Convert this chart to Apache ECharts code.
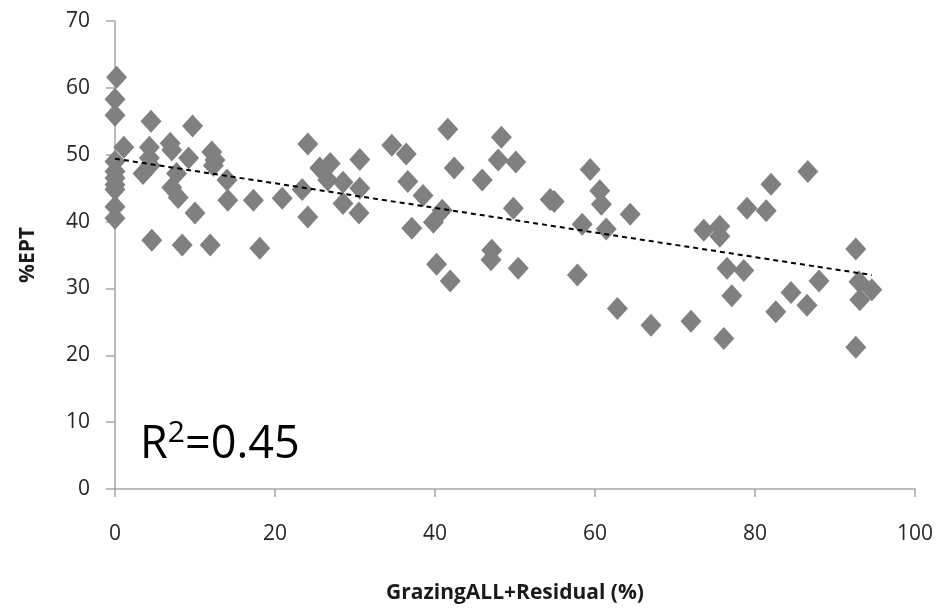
<!DOCTYPE html>
<html>
<head>
<meta charset="utf-8">
<script src="https://cdn.jsdelivr.net/npm/echarts@6/dist/echarts.min.js"></script>
<style>
    html, body { margin: 0; padding: 0; background: #fff; }
    #main { width: 940px; height: 613px; }
</style>
</head>
<body>
<div id="main"></div>
<script>
// GrazingALL+Residual (%) per site
const grazing = [
    0.2, 0, 0, 0, 0, 0, 0, 0, 0, 0,
    1.1, 4.5, 9.7, 4.3, 6.9, 7.1, 9.2, 12.1, 12.5, 12.3,
    4.3, 3.5, 4.4, 7.7, 14.0, 7.1, 7.9, 14.1, 17.3, 20.9,
    10.0, 4.6, 8.4, 11.9, 18.1,
    24.1, 23.4, 24.1, 25.6, 26.9, 26.6, 28.5, 28.5, 30.6, 30.6,
    30.5, 34.6, 36.4, 36.6, 38.5, 37.1, 40.9, 39.8, 41.6, 42.4,
    40.2, 41.9, 45.9, 48.3, 47.9, 50.1, 49.8, 47.1, 47.0, 50.4,
    54.4, 54.9,
    59.4, 60.6, 60.8, 64.4, 58.4, 61.4, 57.8, 62.8, 67.0, 72.0,
    76.1, 73.6, 75.6, 75.6, 76.5, 77.1, 78.6, 79.0, 82.0, 81.4,
    86.6, 84.5, 82.6, 86.5, 88.0, 92.6, 93.0, 94.6, 93.1, 92.6
];
// %EPT per site
const ept = [
    61.6, 58.3, 55.9, 49.0, 47.5, 46.5, 45.5, 44.8, 42.2, 40.5,
    51.1, 55.0, 54.3, 51.1, 51.7, 50.7, 49.5, 50.4, 49.2, 48.4,
    49.5, 47.2, 48.4, 47.2, 46.2, 45.1, 43.6, 43.2, 43.2, 43.5,
    41.3, 37.2, 36.5, 36.5, 36.0,
    51.6, 44.8, 40.7, 48.0, 48.7, 46.2, 45.9, 42.7, 49.3, 45.0,
    41.3, 51.4, 50.1, 46.0, 43.9, 39.0, 41.7, 39.9, 53.8, 48.0,
    33.6, 31.1, 46.2, 52.6, 49.2, 48.9, 42.0, 35.7, 34.3, 33.0,
    43.3, 43.0,
    47.8, 44.6, 42.6, 41.1, 39.6, 38.9, 32.0, 27.0, 24.5, 25.1,
    22.5, 38.7, 39.3, 37.8, 33.0, 28.9, 32.7, 42.0, 45.6, 41.6,
    47.5, 29.4, 26.5, 27.5, 31.1, 35.9, 31.0, 29.8, 28.3, 21.2
];
// linear trendline end points
const trendX = [0, 94.6];
const trendY = [49.4, 32.0];

const xTicks = [0, 20, 40, 60, 80, 100];
const yTicks = [0, 10, 20, 30, 40, 50, 60, 70];

const points = grazing.map(function (g, i) { return [g, ept[i]]; });
const trend = trendX.map(function (t, i) { return [t, trendY[i]]; });

const chart = echarts.init(document.getElementById('main'));
const axisColor = '#a6a6a6';
const font = 'Open Sans';

option = {
    backgroundColor: '#fff',
    animation: false,
    grid: { left: 115, right: 25, top: 21, bottom: 124 },
    xAxis: {
        type: 'value',
        min: xTicks[0],
        max: xTicks[xTicks.length - 1],
        interval: 20,
        name: 'GrazingALL+Residual (%)',
        nameLocation: 'middle',
        nameGap: 94,
        nameTextStyle: { fontFamily: font, fontWeight: 'bold', fontSize: 21, color: '#1a1a1a' },
        axisLine: { lineStyle: { color: axisColor, width: 1.5 } },
        axisTick: { show: true, inside: false, length: 8, lineStyle: { color: axisColor, width: 1.5 } },
        axisLabel: { fontFamily: font, fontSize: 21, color: '#262626', margin: 35 },
        splitLine: { show: false }
    },
    yAxis: {
        type: 'value',
        min: yTicks[0],
        max: yTicks[yTicks.length - 1],
        interval: 10,
        name: '%EPT',
        nameLocation: 'middle',
        nameGap: 76,
        nameRotate: 90,
        nameTextStyle: { fontFamily: font, fontWeight: 'bold', fontSize: 21, color: '#1a1a1a' },
        axisLine: { show: true, lineStyle: { color: axisColor, width: 1.5 } },
        axisTick: { show: true, inside: false, length: 9, lineStyle: { color: axisColor, width: 1.5 } },
        axisLabel: { fontFamily: font, fontSize: 21, color: '#262626', margin: 25 },
        splitLine: { show: false }
    },
    series: [
        {
            type: 'scatter',
            data: points,
            symbol: 'diamond',
            symbolSize: [21, 23],
            itemStyle: { color: '#808080', opacity: 1 },
            z: 2
        },
        {
            type: 'line',
            data: trend,
            symbol: 'none',
            lineStyle: { color: '#000', width: 2, type: [5, 4] },
            z: 3
        }
    ],
    graphic: [
        {
            type: 'text',
            left: 140,
            top: 414,
            style: {
                text: '{a|R}{b|2}{a|=0.45}',
                rich: {
                    a: { fontFamily: font, fontSize: 45, color: '#000', lineHeight: 54, verticalAlign: 'bottom' },
                    b: { fontFamily: font, fontSize: 30, color: '#000', lineHeight: 54, verticalAlign: 'top', padding: [4, 0, 0, 0] }
                }
            }
        }
    ]
};

chart.setOption(option);
</script>
</body>
</html>
